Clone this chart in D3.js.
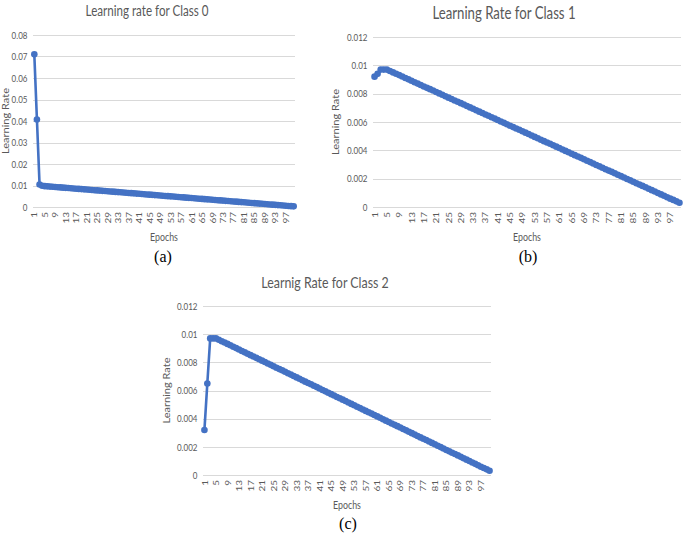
<!DOCTYPE html>
<html>
<head>
<meta charset="utf-8">
<script src="https://cdn.jsdelivr.net/npm/d3@7"></script>
<style>
  body { margin: 0; background: #fff; }
  svg { display: block; }
  text { font-family: Lato, "Open Sans", sans-serif; fill: #595959; }
  .caption { font-family: "Liberation Serif", serif; fill: #000; font-size: 16px; }
</style>
</head>
<body>
<script>
// epochs 1..100 on the category axis
var epochs = d3.range(1, 101);

// first epochs differ per class, the rest is the shared decay (epochs 5..100)
var headClass0 = [0.0710, 0.0407, 0.0105, 0.0099];
var headClass1 = [0.0092, 0.0094, 0.0097, 0.0097];
var headClass2 = [0.0032, 0.0065, 0.0097, 0.0097];
var decayTail = [
  0.00970, 0.00960, 0.00950, 0.00941, 0.00931, 0.00921, 0.00911, 0.00901, 0.00891, 0.00881,
  0.00871, 0.00861, 0.00851, 0.00841, 0.00832, 0.00822, 0.00812, 0.00802, 0.00792, 0.00782,
  0.00772, 0.00762, 0.00752, 0.00743, 0.00733, 0.00723, 0.00713, 0.00703, 0.00693, 0.00683,
  0.00673, 0.00663, 0.00653, 0.00644, 0.00634, 0.00624, 0.00614, 0.00604, 0.00594, 0.00584,
  0.00574, 0.00564, 0.00554, 0.00545, 0.00535, 0.00525, 0.00515, 0.00505, 0.00495, 0.00485,
  0.00475, 0.00465, 0.00455, 0.00446, 0.00436, 0.00426, 0.00416, 0.00406, 0.00396, 0.00386,
  0.00376, 0.00366, 0.00356, 0.00347, 0.00337, 0.00327, 0.00317, 0.00307, 0.00297, 0.00287,
  0.00277, 0.00267, 0.00257, 0.00248, 0.00238, 0.00228, 0.00218, 0.00208, 0.00198, 0.00188,
  0.00178, 0.00168, 0.00158, 0.00149, 0.00139, 0.00129, 0.00119, 0.00109, 0.00099, 0.00089,
  0.00079, 0.00069, 0.00059, 0.00050, 0.00040, 0.00030
];

var yTicksClass0 = [0, 0.01, 0.02, 0.03, 0.04, 0.05, 0.06, 0.07, 0.08];
var yTicksClass12 = [0, 0.002, 0.004, 0.006, 0.008, 0.01, 0.012];

var titles = ["Learning rate for Class 0", "Learning Rate for Class 1", "Learnig Rate for Class 2"];
var captions = ["(a)", "(b)", "(c)"];

var w = 685, h = 536;
var blue = "#4472C4";
var sx = 0.8; // the figure is squeezed sideways, so text is narrowed too

var svg = d3.select("body").append("svg")
    .attr("width", w)
    .attr("height", h);

// layout of each panel (plot box, title, labels)
var panels = [
  { values: headClass0.concat(decayTail), ticks: yTicksClass0, title: titles[0], caption: captions[0],
    x0: 33, x1: 295, yTop: 35, yBot: 207, titleX: 147, titleY: 16, titleSize: 14.5,
    yLabX: 6, capX: 163, capY: 262 },
  { values: headClass1.concat(decayTail), ticks: yTicksClass12, title: titles[1], caption: captions[1],
    x0: 373, x1: 681, yTop: 37, yBot: 207, titleX: 504, titleY: 19, titleSize: 16.5,
    yLabX: 336, capX: 528, capY: 262 },
  { values: headClass2.concat(decayTail), ticks: yTicksClass12, title: titles[2], caption: captions[2],
    x0: 203, x1: 491, yTop: 306, yBot: 475, titleX: 325, titleY: 288, titleSize: 15.5,
    yLabX: 167, capX: 348, capY: 529 }
];

panels.forEach(function(p){
  var g = svg.append("g");

  var x = d3.scalePoint()
      .domain(epochs)
      .range([p.x0, p.x1])
      .padding(0.5);

  var y = d3.scaleLinear()
      .domain([0, d3.max(p.ticks)])
      .range([p.yBot, p.yTop]);

  // gridlines
  g.selectAll(".grid")
      .data(p.ticks)
      .enter()
      .append("line")
      .attr("x1", p.x0)
      .attr("x2", p.x1)
      .attr("y1", function(d){ return Math.round(y(d)) + 0.5; })
      .attr("y2", function(d){ return Math.round(y(d)) + 0.5; })
      .style("stroke", "#d9d9d9")
      .style("stroke-width", 1);

  // y axis labels
  var yAxis = d3.axisLeft(y)
      .tickValues(p.ticks)
      .tickSize(0)
      .tickPadding(7)
      .tickFormat(d3.format("~g"));
  var ya = g.append("g")
      .attr("transform", "translate(" + p.x0 + ",0)")
      .call(yAxis);
  ya.select(".domain").remove();
  ya.selectAll("text")
      .attr("transform", "scale(" + sx + ",1)")
      .style("font-size", "10px")
      .style("fill", "#595959")
      .style("font-family", "Lato, sans-serif");

  // x axis labels, every 4th epoch, rotated
  var xAxis = d3.axisBottom(x)
      .tickValues(epochs.filter(function(d){ return (d - 1) % 4 === 0; }))
      .tickSize(0)
      .tickPadding(0);
  var xa = g.append("g")
      .attr("transform", "translate(0," + p.yBot + ")")
      .call(xAxis);
  xa.select(".domain").remove();
  xa.selectAll("text")
      .attr("transform", "scale(" + sx + ",1) rotate(-90)")
      .attr("x", -5)
      .attr("y", 0)
      .attr("dy", "0.32em")
      .style("text-anchor", "end")
      .style("font-size", "10px")
      .style("fill", "#595959")
      .style("font-family", "Lato, sans-serif");

  // series line
  var line = d3.line()
      .x(function(d, i){ return x(epochs[i]); })
      .y(function(d){ return y(d); });

  g.append("path")
      .datum(p.values)
      .attr("d", line)
      .style("fill", "none")
      .style("stroke", blue)
      .style("stroke-width", 2.6)
      .style("stroke-linejoin", "round");

  g.selectAll(".dot")
      .data(p.values)
      .enter()
      .append("circle")
      .attr("cx", function(d, i){ return x(epochs[i]); })
      .attr("cy", function(d){ return y(d); })
      .attr("r", 3.3)
      .style("fill", blue);

  // title
  g.append("text")
      .attr("transform", "translate(" + p.titleX + "," + p.titleY + ") scale(" + sx + ",1)")
      .attr("text-anchor", "middle")
      .style("font-size", p.titleSize + "px")
      .text(p.title);

  // axis titles
  g.append("text")
      .attr("transform", "translate(" + (p.x0 + p.x1) / 2 + "," + (p.yBot + 34) + ") scale(" + sx + ",1)")
      .attr("text-anchor", "middle")
      .style("font-size", "11px")
      .text("Epochs");

  g.append("text")
      .attr("transform", "translate(" + p.yLabX + "," + (p.yTop + p.yBot) / 2 + ") scale(" + sx + ",1) rotate(-90)")
      .attr("text-anchor", "middle")
      .attr("dy", "0.35em")
      .style("font-size", "11px")
      .text("Learning Rate");

  // panel caption
  g.append("text")
      .attr("class", "caption")
      .attr("x", p.capX)
      .attr("y", p.capY)
      .attr("text-anchor", "middle")
      .text(p.caption);
});
</script>
</body>
</html>
